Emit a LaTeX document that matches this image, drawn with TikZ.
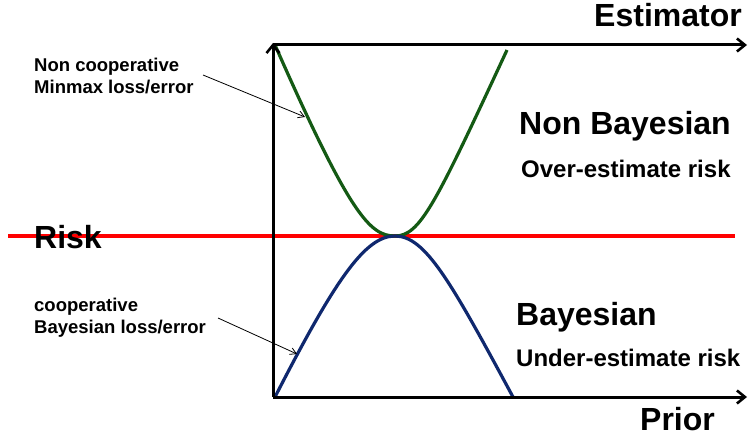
\documentclass[tikz,border=0pt]{standalone}
\usepackage{fontspec}
\setmainfont{Liberation Sans}
\usetikzlibrary{arrows.meta}
\definecolor{curvegreen}{RGB}{20,90,20}
\definecolor{curveblue}{RGB}{15,40,110}
\begin{document}
\begin{tikzpicture}[x=1pt,y=-1pt,
  axis/.style={line width=3pt,-{Straight Barb[length=8pt,width=13pt,line width=2.6pt]}},
  curve/.style={line width=3.2pt},
  pointer/.style={line width=0.8pt,-{Straight Barb[length=6pt,width=7pt,line width=0.8pt]}},
  bigtext/.style={font=\bfseries\fontsize{32}{36}\selectfont,inner sep=0pt},
  midtext/.style={font=\bfseries\fontsize{24}{28}\selectfont,inner sep=0pt},
  smalltext/.style={font=\bfseries\fontsize{18.5}{21.5}\selectfont,inner sep=0pt,align=left}]
\useasboundingbox (0,0) rectangle (748,436);
% coordinates
\coordinate (O) at (273,397);
\coordinate (T) at (273,43);
\coordinate (TL) at (273,45);
\coordinate (TR) at (747,45);
\coordinate (BR) at (747,397);
\coordinate (RL) at (8,236);
\coordinate (RR) at (735,236);
\coordinate (V) at (395,236);
% red risk line
\draw[red,line width=3.2pt] (RL) -- (RR);
% curves
\draw[curve,curvegreen] (275,45) .. controls (350,215) and (370,236) .. (V)
  .. controls (420,236) and (435,205) .. (507,50);
\draw[curve,curveblue] (275,397) .. controls (335,280) and (365,236) .. (V)
  .. controls (425,236) and (450,280) .. (513,397);
% axes
\draw[axis] (O) -- (T);
\draw[axis] (TL) -- (TR);
\draw[axis] (O) -- (BR);
% texts
\node[bigtext,anchor=base east] (est) at (742,27) {Estimator};
\node[bigtext,anchor=base west] (prior) at (640,430) {Prior};
\node[bigtext,anchor=base west] (risk) at (34,248) {Risk};
\node[bigtext,anchor=base west] (nb) at (519,135) {Non Bayesian};
\node[midtext,anchor=base west] (over) at (521,177) {Over-estimate risk};
\node[bigtext,anchor=base west] (bay) at (516,325) {Bayesian};
\node[midtext,anchor=base west] (under) at (516,366) {Under-estimate risk};
\node[smalltext,anchor=north west] (ncl) at (34,58) {Non cooperative\\Minmax loss/error};
\node[smalltext,anchor=north west] (cl) at (34,298) {cooperative\\Bayesian loss/error};
% pointers
\coordinate (p1s) at (203,75);
\coordinate (p1e) at (305,117);
\coordinate (p2s) at (218,318);
\coordinate (p2e) at (297,354);
\draw[pointer] (p1s) -- (p1e);
\draw[pointer] (p2s) -- (p2e);
\end{tikzpicture}
\end{document}
